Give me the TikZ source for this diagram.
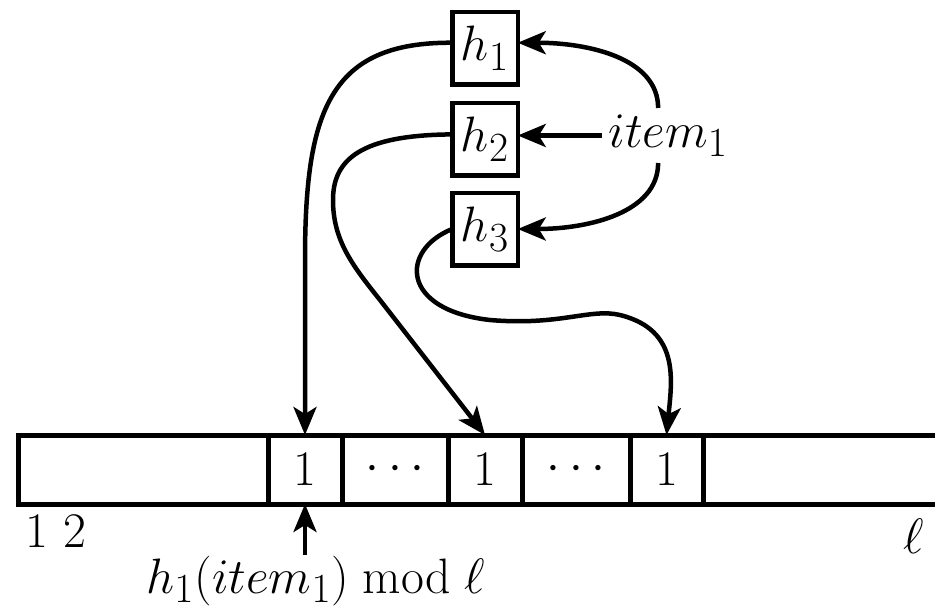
\documentclass[tikz,border=0pt]{standalone}
\usetikzlibrary{arrows.meta, positioning}

\tikzset{
  hashbox/.style={draw, line width=2.25pt, minimum width=32.75pt,
    minimum height=36.25pt, inner sep=0pt, outer sep=0pt},
  cellbox/.style={draw, line width=2.5pt, minimum height=34.5pt,
    inner sep=0pt, outer sep=0pt, anchor=west},
  link/.style={line width=2.25pt,
    -{Stealth[length=14pt, width=11.5pt, inset=3.5pt]}},
}

\begin{document}
\begin{tikzpicture}[x=0.5pt, y=-0.5pt, font=\Huge]
  \useasboundingbox (0,0) rectangle (935,610);

  % hash functions and the item
  \node[hashbox] (h1) at (485,48.5) {$h_1$};
  \node[hashbox] (h2) at (485,139) {$h_2$};
  \node[hashbox] (h3) at (485,229) {$h_3$};
  \node[anchor=base west, inner sep=3pt] (item) at (602,147) {$item_1$};

  % the bit array
  \node[cellbox, minimum width=125pt] (head) at (18,469.5) {};
  \node[cellbox, minimum width=37pt, right=0pt of head] (c1) {$1$};
  \node[cellbox, minimum width=53pt, right=0pt of c1] (d1) {$\cdots$};
  \node[cellbox, minimum width=37pt, right=0pt of d1] (c2) {$1$};
  \node[cellbox, minimum width=54pt, right=0pt of c2] (d2) {$\cdots$};
  \node[cellbox, minimum width=36.5pt, right=0pt of d2] (c3) {$1$};
  \node[cellbox, minimum width=130pt, right=0pt of c3] (tail) {};

  \node[anchor=base west, inner sep=0pt] (first) at (25,547) {1 2};
  \node[anchor=base west, inner sep=0pt] (ell) at (903,553) {$\ell$};
  \node[anchor=base west, inner sep=0pt] (pos) at (146,593)
    {$h_1(item_1) \bmod \ell$};

  % item to hashes
  \draw[link] ([xshift=-5pt]item.north) .. controls +(0,-50) and +(70,0) .. (h1.10);
  \draw[link] (item.west) -- (item.west -| h2.east);
  \draw[link] ([xshift=-5pt]item.south) .. controls +(0,50) and +(70,0) .. (h3.east);

  % hashes to cells
  \draw[link] (h1.170) .. controls (330,42) and (305,110) .. (305,260) -- (c1.north);
  \draw[link] (h2.172) .. controls (360,135) and (333,160) .. (333,200)
    .. controls (333,240) and (352,265) .. (380,300) -- (c2.north);
  \draw[link] (h3.west) .. controls (400,250) and (400,310) .. (490,320)
    .. controls (560,326) and (590,308) .. (620,315)
    .. controls (680,330) and (672,380) .. (c3.north);

  \draw[link] (pos.north -| c1) -- (c1.south);
\end{tikzpicture}
\end{document}
